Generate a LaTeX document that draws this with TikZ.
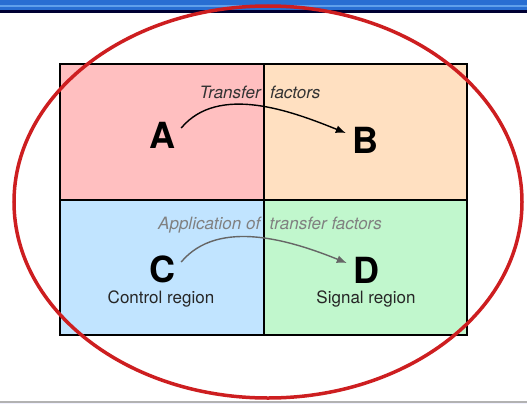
\documentclass[tikz,border=0pt]{standalone}
\usepackage{fontspec}
\setmainfont{TeX Gyre Heros}
\usetikzlibrary{arrows.meta,positioning}

\definecolor{regA}{RGB}{255,191,192}
\definecolor{regB}{RGB}{255,224,193}
\definecolor{regC}{RGB}{193,228,255}
\definecolor{regD}{RGB}{193,247,205}
\definecolor{barblue}{RGB}{40,110,210}
\definecolor{barlight}{RGB}{95,160,235}
\definecolor{ringred}{RGB}{205,30,32}

\begin{document}
\begin{tikzpicture}[
    x=1pt, y=1pt,
    grid/.style={line width=2pt, line cap=rect},
    letter/.style={font=\fontsize{36}{36}\selectfont\bfseries, inner sep=6pt},
    region/.style={font=\fontsize{17}{17}\selectfont, text=black!85, inner sep=0pt},
    tf/.style={font=\fontsize{17}{17}\selectfont\itshape, inner sep=0pt},
    arr/.style={-{Latex[length=10pt,width=8pt]}, line width=1.4pt}
  ]
    \useasboundingbox (0,0) rectangle (527,-404);

    % window bar on top, rule at the bottom
    \fill[barblue] (0,0) rectangle (527,-11);
    \fill[barlight] (0,-5) rectangle (527,-7);
    \fill[black!80!blue] (0,-10.5) rectangle (527,-13);
    \fill[black!30] (0,-401) rectangle (527,-402.5);
    \fill[blue!5] (0,-402.5) rectangle (527,-404);

    % four regions
    \fill[regA] (60,-64) rectangle (264,-200);
    \fill[regB] (264,-64) rectangle (467,-200);
    \fill[regC] (60,-200) rectangle (264,-335);
    \fill[regD] (264,-200) rectangle (467,-335);
    \draw[grid] (60,-64) rectangle (467,-335);
    \draw[grid] (264,-64) -- (264,-335);
    \draw[grid] (60,-200) -- (467,-200);

    \node[letter] (A) at (162,-135) {A};
    \node[letter] (B) at (365,-140) {B};
    \node[letter] (C) at (162,-269) {C};
    \node[letter] (D) at (366,-270) {D};

    \node[region] (ctrl) at (161,-299) {Control region};
    \node[region] (sig) at (366,-299) {Signal region};

    \node[tf, text=black!80] (tfAB) at (260,-92) {Transfer\ \ factors};
    \node[tf, text=black!50] (tfCD) at (270,-225) {Application of\ \ transfer factors};

    \draw[arr] (A.20) to[out=50, in=158, looseness=0.9] (B.160);
    \draw[arr, black!60] (C.20) to[out=50, in=158, looseness=0.9] (D.160);

    % red ring over everything
    \draw[ringred, line width=3.5pt] (268,-202) ellipse [x radius=254pt, y radius=196pt];
\end{tikzpicture}
\end{document}
